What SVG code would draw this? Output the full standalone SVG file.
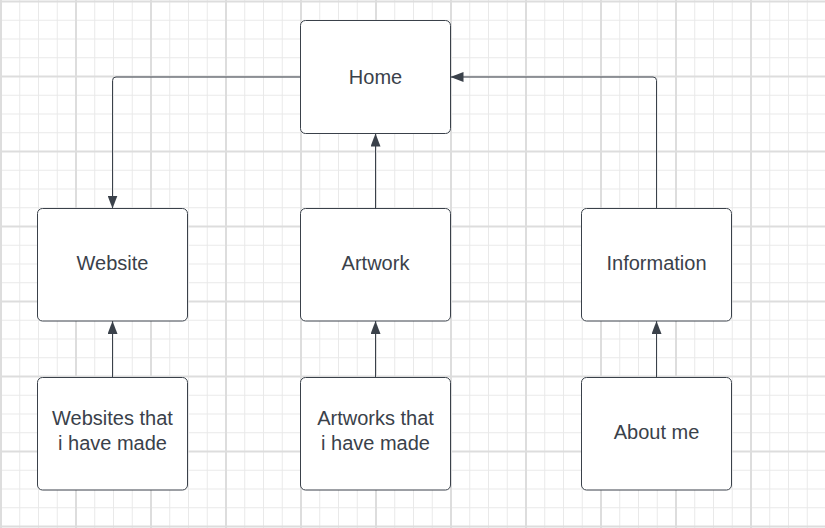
<svg xmlns="http://www.w3.org/2000/svg" width="825" height="528" viewBox="0 0 825 528">
  <style>
    .node rect { fill: #ffffff; stroke: #3a414a; stroke-width: 1; }
    .node text { font-family: "Liberation Sans", Arial, sans-serif; font-size: 20px; fill: #3a414a; text-anchor: middle; }
    .conn path { fill: none; stroke: #3a414a; stroke-width: 1; }
  </style>
  <defs>
    <pattern id="minor" x="0.5" y="1" width="18.75" height="18.75" patternUnits="userSpaceOnUse">
      <rect x="0" y="0" width="1" height="18.75" fill="#e9e9e9"/>
      <rect x="0" y="0" width="18.75" height="1" fill="#e9e9e9"/>
    </pattern>
    <pattern id="major" x="0" y="0.5" width="75" height="75" patternUnits="userSpaceOnUse">
      <rect x="0" y="0" width="2" height="75" fill="#dddddd"/>
      <rect x="0" y="0" width="75" height="2" fill="#dddddd"/>
    </pattern>
    <marker id="arrow" markerUnits="userSpaceOnUse" markerWidth="14" markerHeight="10" refX="13" refY="5" orient="auto">
      <path d="M0,0 L13,5 L0,10 Z" fill="#3a414a"/>
    </marker>
  </defs>
  <rect x="0" y="0" width="825" height="528" fill="#ffffff"/>
  <rect x="0" y="0" width="825" height="528" fill="url(#minor)"/>
  <rect x="0" y="0" width="825" height="528" fill="url(#major)"/>

  <g class="conn" id="connectors">
    <path d="M300.5,77 H116 Q112.5,77 112.5,80.5 V208.5" marker-end="url(#arrow)"/>
    <path d="M656.5,208.5 V80.5 Q656.5,77 653,77 H450.5" marker-end="url(#arrow)"/>
    <path d="M375.5,208.5 V133.5" marker-end="url(#arrow)"/>
    <path d="M112.5,377.5 V321" marker-end="url(#arrow)"/>
    <path d="M375.5,377.5 V321" marker-end="url(#arrow)"/>
    <path d="M656.5,377.5 V321" marker-end="url(#arrow)"/>
  </g>

  <g class="node" id="home">
    <rect x="300.5" y="20.5" width="150" height="113" rx="5"/>
    <text x="375.5" y="83.5">Home</text>
  </g>
  <g class="node" id="website">
    <rect x="37.5" y="208.5" width="150" height="112.5" rx="5"/>
    <text x="112.5" y="270">Website</text>
  </g>
  <g class="node" id="artwork">
    <rect x="300.5" y="208.5" width="150" height="112.5" rx="5"/>
    <text x="375.5" y="270">Artwork</text>
  </g>
  <g class="node" id="information">
    <rect x="581.5" y="208.5" width="150" height="112.5" rx="5"/>
    <text x="656.5" y="270">Information</text>
  </g>
  <g class="node" id="websites-made">
    <rect x="37.5" y="377.5" width="150" height="112.5" rx="5"/>
    <text x="112.5" y="424.5">Websites that</text>
    <text x="112.5" y="449.5">i have made</text>
  </g>
  <g class="node" id="artworks-made">
    <rect x="300.5" y="377.5" width="150" height="112.5" rx="5"/>
    <text x="375.5" y="424.5">Artworks that</text>
    <text x="375.5" y="449.5">i have made</text>
  </g>
  <g class="node" id="about-me">
    <rect x="581.5" y="377.5" width="150" height="112.5" rx="5"/>
    <text x="656.5" y="439">About me</text>
  </g>
</svg>
